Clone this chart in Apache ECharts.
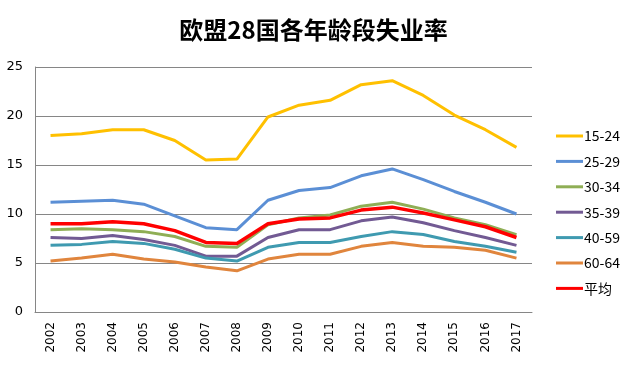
<!DOCTYPE html>
<html><head><meta charset="utf-8">
<script src="https://cdn.jsdelivr.net/npm/echarts@6/dist/echarts.min.js"></script>
<style>html,body{margin:0;padding:0;background:#fff}#c{width:627px;height:370px}</style>
</head><body><div id="c"></div>
<script>
const years = ['2002','2003','2004','2005','2006','2007','2008','2009','2010','2011','2012','2013','2014','2015','2016','2017'];
const yTicks = [0,5,10,15,20,25];
const s15_24 = [18.0,18.2,18.6,18.6,17.5,15.5,15.6,19.9,21.1,21.6,23.2,23.6,22.1,20.1,18.6,16.8];
const s25_29 = [11.2,11.3,11.4,11.0,9.8,8.6,8.4,11.4,12.4,12.7,13.9,14.6,13.5,12.3,11.2,10.0];
const s30_34 = [8.4,8.5,8.4,8.2,7.7,6.7,6.6,8.9,9.6,9.9,10.8,11.2,10.5,9.6,8.9,7.9];
const s35_39 = [7.6,7.5,7.8,7.4,6.8,5.7,5.7,7.6,8.4,8.4,9.3,9.7,9.1,8.3,7.6,6.8];
const s40_59 = [6.8,6.9,7.2,7.0,6.4,5.5,5.2,6.6,7.1,7.1,7.7,8.2,7.9,7.2,6.7,6.1];
const s60_64 = [5.2,5.5,5.9,5.4,5.1,4.6,4.2,5.4,5.9,5.9,6.7,7.1,6.7,6.6,6.3,5.5];
const sAvg   = [9.0,9.0,9.2,9.0,8.3,7.1,7.0,9.0,9.5,9.6,10.4,10.7,10.1,9.4,8.7,7.6];

const names = ['15-24','25-29','30-34','35-39','40-59','60-64','平均'];
const dataList = [s15_24,s25_29,s30_34,s35_39,s40_59,s60_64,sAvg];
const colors = ['#FFC000','#5B8FD5','#8FAE55','#725A93','#3F9AB0','#E0853D','#FF0000'];
const widths = [3,3,3,3,3,3,3.5];

const chart = echarts.init(document.getElementById('c'), null, {renderer:'canvas'});
chart.setOption({
  animation:false,
  title:{text:'欧盟28国各年龄段失业率', left:'center', top:13,
    textStyle:{fontFamily:'Noto Sans CJK SC', fontSize:24, fontWeight:'bold', color:'#000'}},
  grid:{left:35, right:95, top:67, bottom:58, containLabel:false},
  legend:{orient:'vertical', left:551, top:124, itemWidth:27, itemHeight:3, itemGap:11.4,
    icon:'rect',
    data:names,
    textStyle:{fontFamily:'Noto Sans CJK SC', fontSize:14, color:'#000', lineHeight:14, padding:[0,0,0,-4]}},
  xAxis:{type:'category', data:years, boundaryGap:true,
    axisLine:{lineStyle:{color:'#868686', width:1}},
    axisTick:{show:false},
    axisLabel:{rotate:90, fontFamily:'DejaVu Sans', fontSize:12, color:'#000', margin:10}},
  yAxis:{type:'value', min:yTicks[0], max:yTicks[yTicks.length-1], interval:5,
    axisLine:{show:true, lineStyle:{color:'#868686', width:1}},
    axisTick:{show:false},
    splitLine:{lineStyle:{color:'#868686', width:1}},
    axisLabel:{fontFamily:'DejaVu Sans', fontSize:13, color:'#000', margin:12}},
  series: names.map((n,i)=>({
    name:n, type:'line', data:dataList[i], showSymbol:false, symbol:'none',
    lineStyle:{color:colors[i], width:widths[i]}, itemStyle:{color:colors[i]},
    z: i===6 ? 5 : 2
  }))
});
</script></body></html>
